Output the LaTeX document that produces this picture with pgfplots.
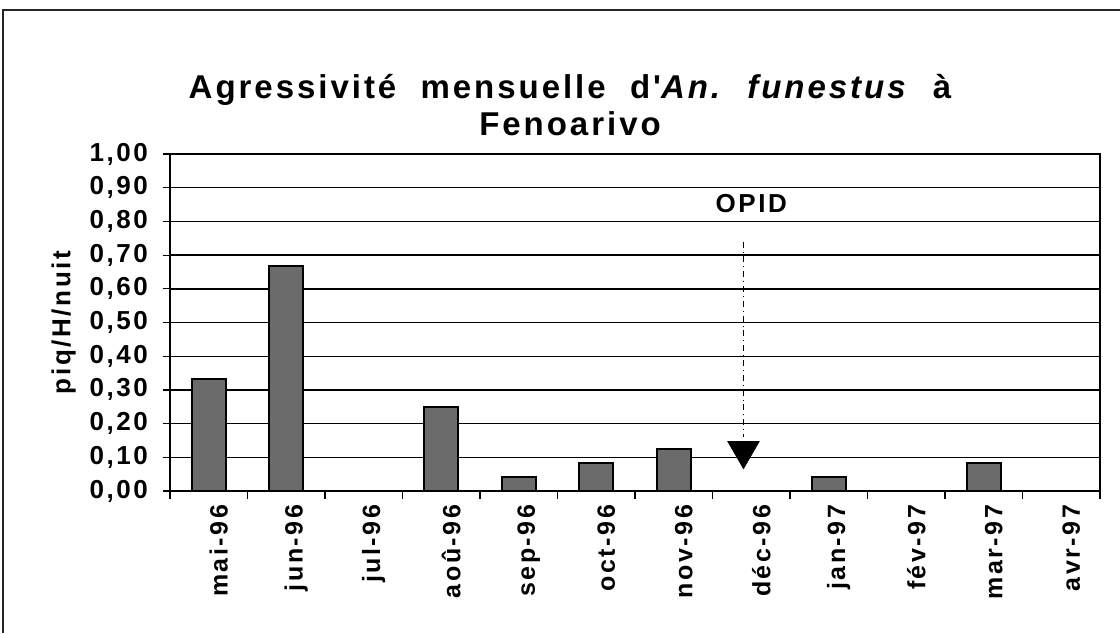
\documentclass[border=0pt]{standalone}
\usepackage{fontspec}
\setmainfont{Liberation Sans}[LetterSpace=10]
\newfontfamily\titlefont{Liberation Sans}[LetterSpace=9]
\usepackage{pgfplots}
\pgfplotsset{compat=1.18}
\begin{document}
\begin{tikzpicture}
\useasboundingbox (-85pt,-71pt) rectangle (475pt,245.5pt);
\draw[line width=0.9pt, black!85] (-83.5pt,-71pt) -- (-83.5pt,240.5pt) -- (475pt,240.5pt);
\begin{axis}[
  at={(0pt,0pt)}, anchor=south west,
  scale only axis, width=465pt, height=168.5pt,
  xmin=-0.5, xmax=11.5, ymin=0, ymax=1,
  ybar, bar width=17pt,
  xtick={0,...,11},
  xticklabels={mai-96,jun-96,jul-96,aoû-96,sep-96,oct-96,nov-96,déc-96,jan-97,fév-97,mar-97,avr-97},
  xtick pos=bottom, ytick pos=left,
  major x tick style={draw=none},
  minor xtick={-0.5,0.5,...,11.5},
  minor x tick style={black, line width=0.6pt},
  tick align=outside,
  major tick length=3.5pt, minor tick length=4pt,
  ytick={0,0.1,...,1.01},
  major y tick style={black, line width=0.6pt},
  yticklabel={\pgfmathprintnumber[fixed,fixed zerofill,precision=2,use comma,assume math mode=true]{\tick}},
  ymajorgrids, grid style={black, line width=0.7pt},
  axis line style={black, line width=1.1pt},
  yticklabel style={font=\fontsize{13}{15}\selectfont\bfseries, xshift=-4pt},
  xticklabel style={rotate=90, anchor=east, font=\fontsize{12.5}{14}\selectfont\bfseries, yshift=-5pt},
  ylabel={piq/H/nuit},
  ylabel style={font=\fontsize{13}{15}\selectfont\bfseries},
  clip=false,
]
\addplot[fill=black!58, draw=black, line width=1pt] coordinates {
 (0,0.3333) (1,0.6667) (2,0) (3,0.25) (4,0.0417) (5,0.0833)
 (6,0.125) (7,0) (8,0.0417) (9,0) (10,0.0833) (11,0)};
\addplot[ybar=0pt, sharp plot, dash dot, line width=0.6pt, black] coordinates {(6.9,0.74) (6.9,0.16)};
\addplot[only marks, mark=triangle*, mark size=9pt, mark options={rotate=180, fill=black, draw=black}, black] coordinates {(6.9,0.12)};
\node[font=\fontsize{13}{15}\selectfont\bfseries] at (axis cs:7.0,0.853) {OPID};
\end{axis}
\node[font=\titlefont\fontsize{16.5}{18.5}\selectfont\bfseries, align=center] at (200pt,193pt)
  {Agressivité\ \ mensuelle\ \ d'\textit{An.}\ \ \textit{funestus}\ \ à\\Fenoarivo};
\end{tikzpicture}
\end{document}
